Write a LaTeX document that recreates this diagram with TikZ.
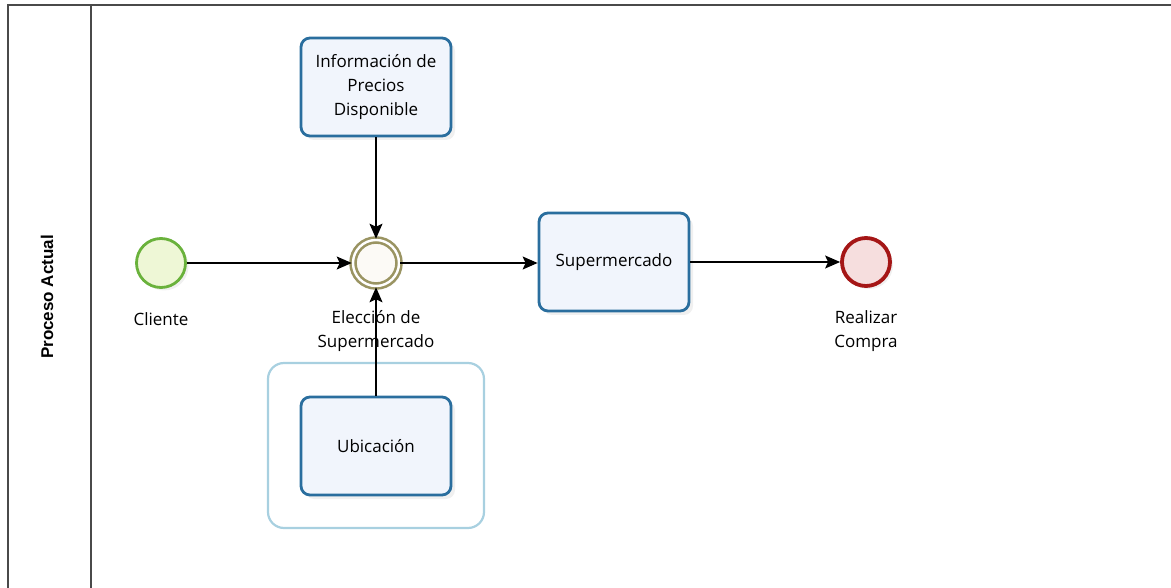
\documentclass[tikz,border=0pt]{standalone}
\usepackage{fontspec}
\setmainfont{Open Sans}
\newfontfamily\headfont{Liberation Sans}
\usetikzlibrary{arrows.meta,shadows}
\definecolor{taskline}{HTML}{2A6E9E}
\definecolor{taskfill}{HTML}{F1F5FC}
\definecolor{groupline}{HTML}{A8D0E0}
\definecolor{startline}{HTML}{6AB23C}
\definecolor{startfill}{HTML}{EEF7D6}
\definecolor{endline}{HTML}{A51616}
\definecolor{endfill}{HTML}{F6DEDE}
\definecolor{midline}{HTML}{9A9462}
\definecolor{midfill}{HTML}{FCFAF6}
\definecolor{laneline}{HTML}{4A4A4A}
\tikzset{
  lane/.style={draw=laneline, line width=1.5pt},
  task/.style={draw=taskline, fill=taskfill, line width=2.8pt, rounded corners=9pt,
    minimum width=150pt, minimum height=98pt, align=center, inner sep=0pt,
    font=\fontsize{17}{24}\selectfont,
    drop shadow={opacity=0.12, shadow xshift=4pt, shadow yshift=-4pt}},
  startev/.style={circle, draw=startline, fill=startfill, line width=2.8pt, minimum size=49pt, inner sep=0pt,
    drop shadow={opacity=0.12, shadow xshift=3pt, shadow yshift=-3pt}},
  endev/.style={circle, draw=endline, fill=endfill, line width=3.8pt, minimum size=48pt, inner sep=0pt,
    drop shadow={opacity=0.12, shadow xshift=3pt, shadow yshift=-3pt}},
  midev/.style={circle, draw=midline, fill=midfill, line width=2.6pt, minimum size=46pt, inner sep=0pt,
    double=white, double distance=2.4pt,
    drop shadow={opacity=0.12, shadow xshift=3pt, shadow yshift=-3pt}},
  grp/.style={draw=groupline, line width=2.2pt, rounded corners=16pt},
  lbl/.style={align=center, font=\fontsize{17}{24}\selectfont, inner sep=0pt},
  flow/.style={draw=black, line width=1.2pt, -{Stealth[length=15pt, width=13pt, inset=3pt]}}
}
\begin{document}
\begin{tikzpicture}[x=1pt,y=-1pt]
\useasboundingbox (0,0) rectangle (1171,588);
% lane
\draw[lane] (8,588) -- (8,5) -- (1171,5);
\draw[lane] (91,5) -- (91,588);
\node[rotate=90, font=\headfont\bfseries\fontsize{17}{19}\selectfont] (lanetitle) at (47,297) {Proceso Actual};
% group
\draw[grp] (268,363) rectangle (484,528);
% nodes
\node[startev] (cliente) at (161,263) {};
\node[lbl] (clientelbl) at (161,319) {Cliente};
\node[midev] (eleccion) at (376,263) {};
\node[lbl] (eleccionlbl) at (376,331) {Elección de\\Supermercado};
\node[task] (info) at (376,87) {Información de\\Precios\\Disponible};
\node[task] (ubic) at (376,446) {Ubicación};
\node[task] (super) at (614,262) {Supermercado};
\node[endev] (realizar) at (866,262) {};
\node[lbl] (realizarlbl) at (866,331) {Realizar\\Compra};
% flows
\draw[flow] (cliente) -- (eleccion);
\draw[flow] (info) -- (eleccion);
\draw[flow] (ubic) -- (eleccion);
\draw[flow] (eleccion.east) -- (super.west |- eleccion.east);
\draw[flow] (super) -- (realizar);
\end{tikzpicture}
\end{document}
